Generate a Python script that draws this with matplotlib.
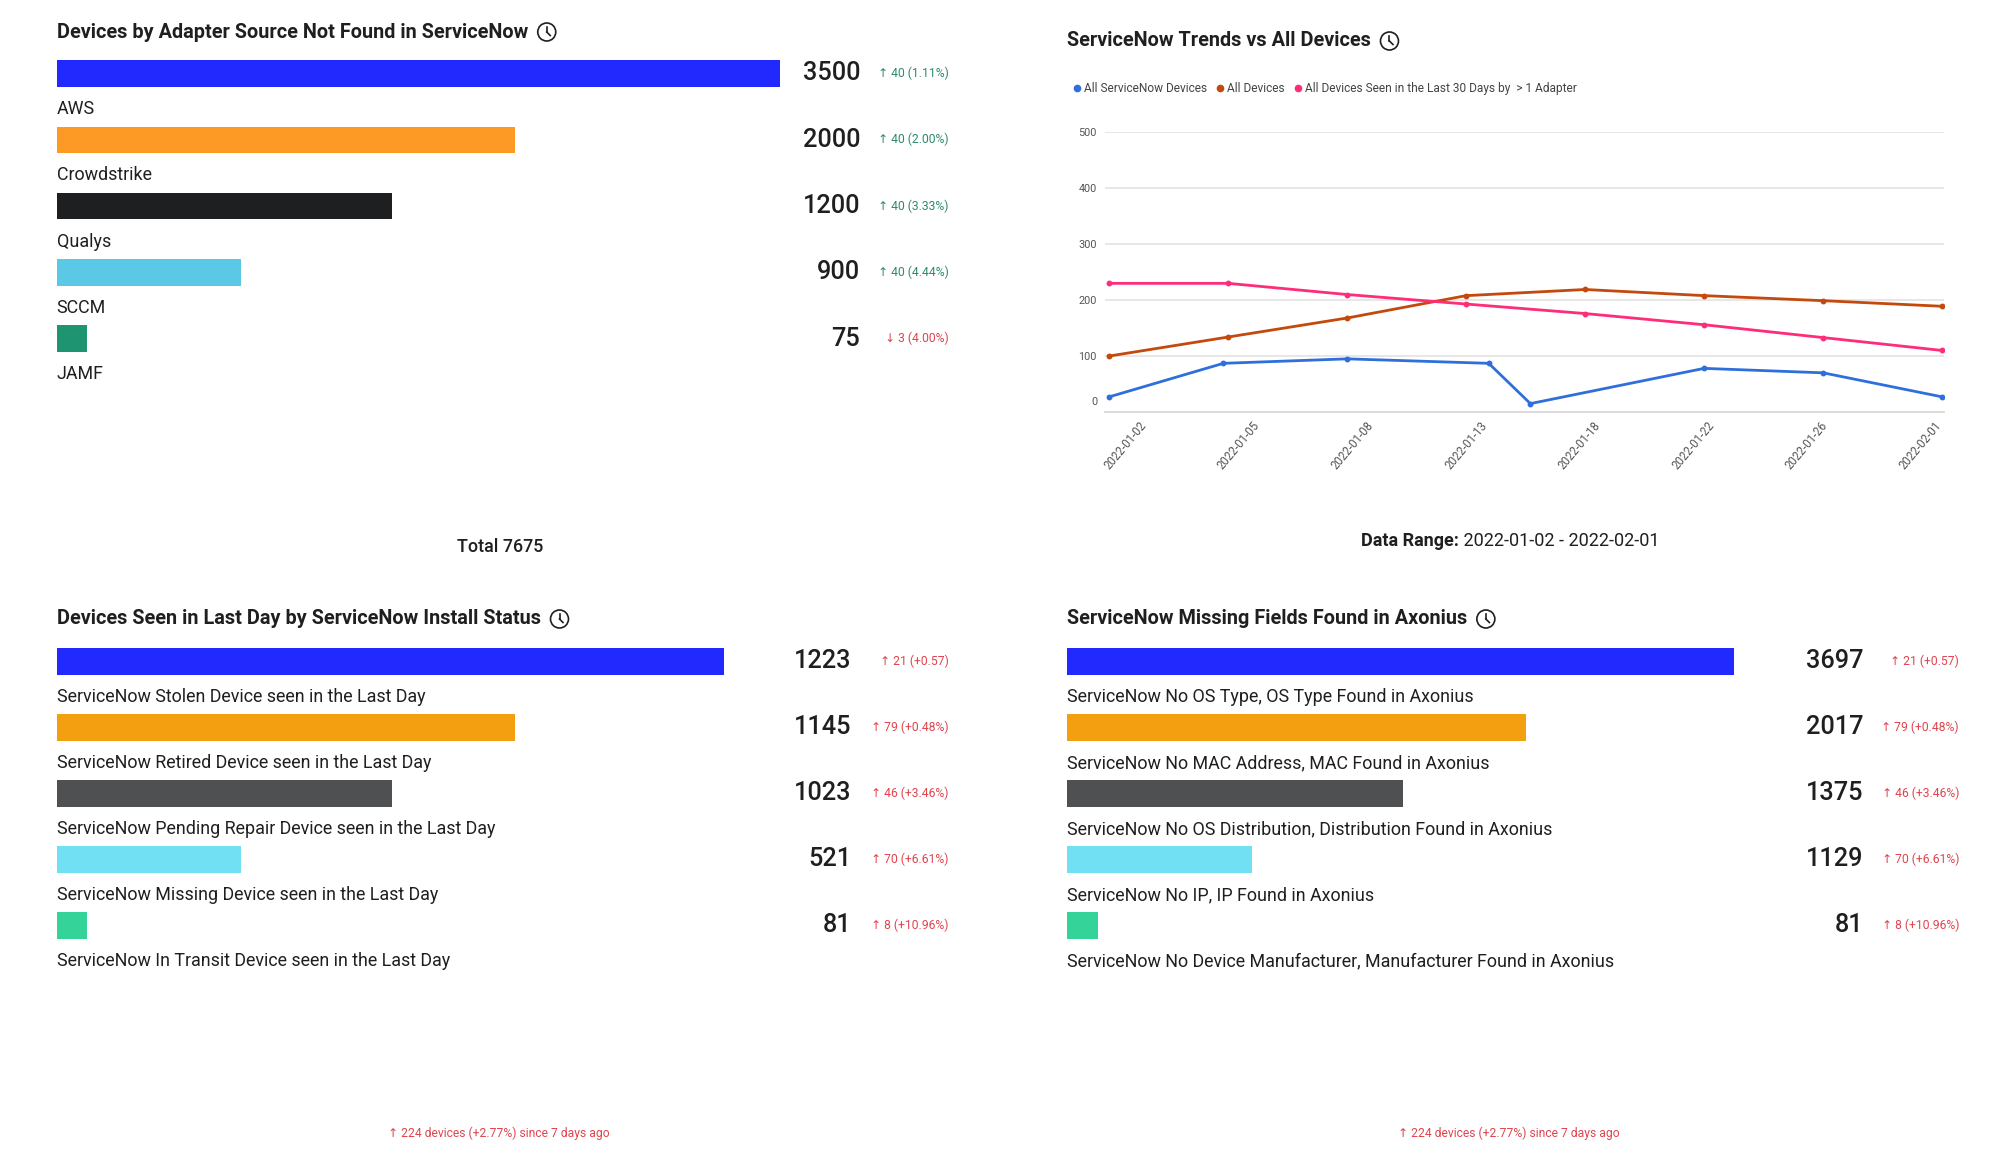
import numpy as np
import matplotlib
matplotlib.use('Agg')
import matplotlib.pyplot as plt
from matplotlib.transforms import blended_transform_factory
from matplotlib.patches import Ellipse
from matplotlib.lines import Line2D

plt.rcParams['font.family'] = ['Roboto', 'DejaVu Sans']

W, H = 2010, 1161
TXT = '#1f1f1f'
GREEN = '#2e8b68'
RED = '#e0444e'

# --- data -----------------------------------------------------------------
adapter_names = ['AWS', 'Crowdstrike', 'Qualys', 'SCCM', 'JAMF']
adapter_values = [3500, 2000, 1200, 900, 75]
adapter_bar = [100, 63.4, 46.4, 25.5, 4.2]        # bar length as drawn (% of track)
adapter_delta = ['↑ 40 (1.11%)', '↑ 40 (2.00%)', '↑ 40 (3.33%)', '↑ 40 (4.44%)', '↓ 3 (4.00%)']
adapter_delta_up = [True, True, True, True, False]
adapter_total = 7675

status_names = ['ServiceNow Stolen Device seen in the Last Day',
                'ServiceNow Retired Device seen in the Last Day',
                'ServiceNow Pending Repair Device seen in the Last Day',
                'ServiceNow Missing Device seen in the Last Day',
                'ServiceNow In Transit Device seen in the Last Day']
status_values = [1223, 1145, 1023, 521, 81]
status_bar = [92.2, 63.4, 46.4, 25.5, 4.2]

fields_names = ['ServiceNow No OS Type, OS Type Found in Axonius',
                'ServiceNow No MAC Address, MAC Found in Axonius',
                'ServiceNow No OS Distribution, Distribution Found in Axonius',
                'ServiceNow No IP, IP Found in Axonius',
                'ServiceNow No Device Manufacturer, Manufacturer Found in Axonius']
fields_values = [3697, 2017, 1375, 1129, 81]
fields_bar = [92.2, 63.5, 46.5, 25.6, 4.3]

bottom_delta = ['↑ 21 (+0.57)', '↑ 79 (+0.48%)', '↑ 46 (+3.46%)', '↑ 70 (+6.61%)', '↑ 8 (+10.96%)']
footer = '↑ 224 devices (+2.77%) since 7 days ago'

dates = ['2022-01-02', '2022-01-05', '2022-01-08', '2022-01-13',
         '2022-01-18', '2022-01-22', '2022-01-26', '2022-02-01']
all_devices = [100, 134, 168, 208, 219, 208, 199, 189]
seen_30d = [230, 230, 210, 193, 176, 156, 133, 110]
sn_x = [0, 0.96, 2, 3.19, 3.54, 5, 6, 7]
sn_devices = [27, 87, 95, 87, 15, 78, 70, 27]

colors_top = ['#2129ff', '#fd9a26', '#1e1f21', '#5bc9e5', '#1e9570']
colors_bottom = ['#2129ff', '#f39f10', '#4f5052', '#72e0f3', '#33d399']
line_colors = {'sn': '#2f6fdb', 'all': '#c4490c', 'seen': '#fe2c79'}


def fx(x):
    return x / W


def fy(y):
    return 1 - y / H


fig = plt.figure(figsize=(W / 100, H / 100), dpi=100)
renderer = fig.canvas.get_renderer()


def clock(cx, cy, r=9):
    fig.add_artist(Ellipse((fx(cx), fy(cy)), 2 * r / W, 2 * r / H,
                           fill=False, ec=TXT, lw=1.2, transform=fig.transFigure))
    fig.add_artist(Line2D([fx(cx), fx(cx)], [fy(cy), fy(cy - 5.5)], color=TXT, lw=1.2))
    fig.add_artist(Line2D([fx(cx), fx(cx + 3.5)], [fy(cy), fy(cy + 3.5)], color=TXT, lw=1.2))


def title(x, y, s):
    t = fig.text(fx(x), fy(y), s, fontsize=14.3, fontweight='bold', color=TXT,
                 ha='left', va='center')
    bb = t.get_window_extent(renderer)
    clock(bb.x1 + 19, y)


def bar_panel(x0, yc0, step, names, bar_len, values, deltas, delta_cols, colors,
              num_right, delta_right):
    track = 723.5
    ax = fig.add_axes([fx(x0), fy(yc0 + step * 4.5), track / W, step * 5 / H])
    y = np.arange(len(names))
    ax.barh(y, bar_len, height=26.5 / step, color=colors)
    ax.set_xlim(0, 100)
    ax.set_ylim(4.5, -0.5)
    ax.axis('off')
    tr = blended_transform_factory(fig.transFigure, ax.transData)
    for i, name in enumerate(names):
        ax.text(0, i + 35.5 / step, name, fontsize=12.9, color=TXT, ha='left', va='center')
        ax.text(fx(num_right), i, f'{values[i]}', transform=tr, fontsize=18.2,
                fontweight='medium', color=TXT, ha='right', va='center')
        ax.text(fx(delta_right), i, deltas[i], transform=tr, fontsize=8.7,
                color=delta_cols[i], ha='right', va='center')
    return ax


# --- top left ---------------------------------------------------------------
title(56.5, 32, 'Devices by Adapter Source Not Found in ServiceNow')
bar_panel(56.5, 73.5, 66.3, adapter_names, adapter_bar, adapter_values, adapter_delta,
          [GREEN if u else RED for u in adapter_delta_up], colors_top, 860, 948.5)
fig.text(fx(500), fy(547), f'Total {adapter_total}', fontsize=12.9, fontweight='medium',
         color=TXT, ha='center', va='center')

# --- bottom left ------------------------------------------------------------
title(56.5, 619, 'Devices Seen in Last Day by ServiceNow Install Status')
bar_panel(56.5, 661.5, 66, status_names, status_bar, status_values, bottom_delta,
          [RED] * 5, colors_bottom, 851, 948.5)
fig.text(fx(499), fy(1133), footer, fontsize=8.7, color=RED, ha='center', va='center')

# --- bottom right -----------------------------------------------------------
title(1066.6, 619, 'ServiceNow Missing Fields Found in Axonius')
bar_panel(1066.6, 661.5, 66, fields_names, fields_bar, fields_values, bottom_delta,
          [RED] * 5, colors_bottom, 1863, 1959)
fig.text(fx(1509), fy(1133), footer, fontsize=8.7, color=RED, ha='center', va='center')

# --- top right: trend lines -------------------------------------------------
title(1066.6, 41, 'ServiceNow Trends vs All Devices')
ax = fig.add_axes([fx(1105), fy(412), (1944 - 1105) / W, (412 - 132.3) / H])
x = np.arange(len(dates))
ax.plot(sn_x, sn_devices, color=line_colors['sn'], lw=2, marker='o', ms=3.2,
        label='All ServiceNow Devices')
ax.plot(x, all_devices, color=line_colors['all'], lw=2, marker='o', ms=3.2,
        label='All Devices')
ax.plot(x, seen_30d, color=line_colors['seen'], lw=2, marker='o', ms=3.2,
        label='All Devices Seen in the Last 30 Days by  > 1 Adapter')
ax.set_xlim(-0.034, 7.015)
ax.set_ylim(0, 500)
ax.set_yticks([100, 200, 300, 400, 500])
ax.grid(axis='y', color='#e3e3e3', lw=1.2)
ax.set_axisbelow(True)
for s in ['top', 'right', 'left']:
    ax.spines[s].set_visible(False)
ax.spines['bottom'].set_color('#d6d6d6')
ax.spines['bottom'].set_linewidth(1.2)
ax.tick_params(axis='y', length=0, pad=6, labelsize=7.8, labelcolor='#555555')
ax.annotate('0', xy=(0, 0), xycoords=('axes fraction', 'data'), xytext=(-8, 10),
            textcoords='offset pixels', ha='right', va='center', fontsize=7.8,
            color='#555555')
ax.set_xticks(np.linspace(0.25, 6.93, len(dates)))
ax.set_xticklabels(dates, rotation=50, ha='right', va='top', rotation_mode='anchor')
ax.tick_params(axis='x', length=0, pad=5, labelsize=8.3, labelcolor='#555555')

handles = [Line2D([], [], color=c, marker='o', ls='none', ms=4.5)
           for c in [line_colors['sn'], line_colors['all'], line_colors['seen']]]
fig.legend(handles, ['All ServiceNow Devices', 'All Devices',
                     'All Devices Seen in the Last 30 Days by  > 1 Adapter'],
           loc='center left', bbox_to_anchor=(fx(1074), fy(88.5)), ncol=3,
           frameon=False, fontsize=8.55, labelcolor='#444444', handlelength=0.5,
           handletextpad=0.3, columnspacing=0.9, borderpad=0, borderaxespad=0)

# Data range caption, bold label + regular dates, centred together
t1 = fig.text(0, fy(541), 'Data Range:', fontsize=12.95, fontweight='bold', color=TXT,
              ha='left', va='center')
t2 = fig.text(0, fy(541), ' 2022-01-02 - 2022-02-01', fontsize=12.95, color=TXT,
              ha='left', va='center')
w1 = t1.get_window_extent(renderer).width
w2 = t2.get_window_extent(renderer).width
left = 1510 - (w1 + w2) / 2
t1.set_x(fx(left))
t2.set_x(fx(left + w1))

fig.savefig('out.png', dpi=100, facecolor='white')
